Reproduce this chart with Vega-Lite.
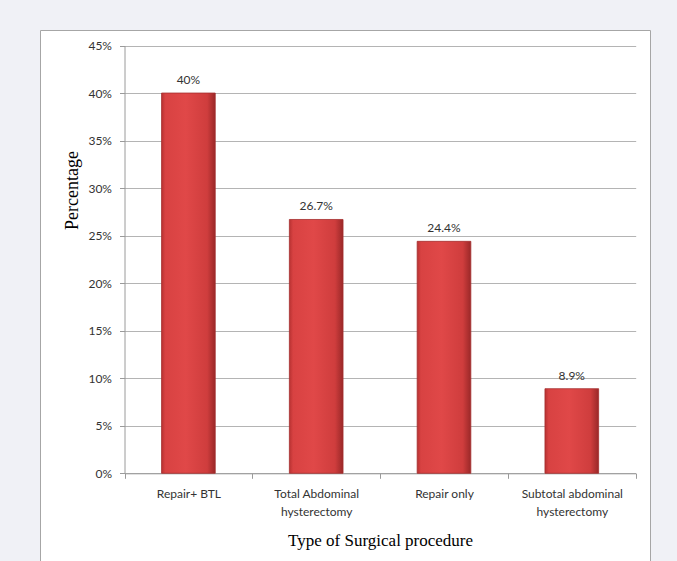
{
  "$schema": "https://vega.github.io/schema/vega-lite/v6.json",
  "width": 610,
  "height": 540,
  "autosize": {"type": "none"},
  "padding": {"left": 40, "top": 30, "right": 27, "bottom": 0},
  "background": "#f0f1f6",
  "config": {"view": {"fill": "#ffffff", "stroke": "#a6a6a6", "strokeWidth": 1}},
  "data": {
    "values": [
      {"procedure": "Repair+ BTL", "pct": 0.40, "label": "40%"},
      {"procedure": "Total Abdominal|hysterectomy", "pct": 0.267, "label": "26.7%"},
      {"procedure": "Repair only", "pct": 0.244, "label": "24.4%"},
      {"procedure": "Subtotal abdominal|hysterectomy", "pct": 0.089, "label": "8.9%"}
    ]
  },
  "encoding": {
    "x": {
      "field": "procedure",
      "type": "nominal",
      "sort": null,
      "scale": {"range": [84.5, 595.7], "paddingInner": 0, "paddingOuter": 0},
      "axis": {
        "title": "Type of Surgical procedure",
        "offset": -96.7,
        "tickBand": "extent",
        "labelExpr": "split(datum.label, '|')",
        "labelAngle": 0,
        "labelLineHeight": 18,
        "labelPadding": 10,
        "labelBaseline": "top",
        "grid": false,
        "domainColor": "#9a9a9a",
        "tickColor": "#9a9a9a",
        "tickSize": 5,
        "labelFont": "Lato",
        "labelFontSize": 12,
        "labelColor": "#333333",
        "titleFont": "Liberation Serif",
        "titleFontSize": 17,
        "titleFontWeight": "normal",
        "titleColor": "#000000",
        "titleY": 67,
        "titleBaseline": "middle"
      }
    },
    "y": {
      "field": "pct",
      "type": "quantitative",
      "scale": {"domain": [0, 0.45], "range": [443.3, 15.5], "nice": false, "zero": true},
      "axis": {
        "title": "Percentage",
        "values": [0, 0.05, 0.1, 0.15, 0.2, 0.25, 0.3, 0.35, 0.4, 0.45],
        "format": ".0%",
        "offset": -84.5,
        "grid": true,
        "gridColor": "#b4b4b4",
        "domainColor": "#9a9a9a",
        "tickColor": "#9a9a9a",
        "tickSize": 5,
        "labelPadding": 8,
        "labelFont": "Lato",
        "labelFontSize": 12,
        "labelColor": "#333333",
        "titleFont": "Liberation Serif",
        "titleFontSize": 18,
        "titleFontWeight": "normal",
        "titleColor": "#000000",
        "titleAngle": 270,
        "titleAlign": "center",
        "titleBaseline": "middle",
        "titleX": -52.5,
        "titleY": 160
      }
    }
  },
  "layer": [
    {
      "mark": {
        "type": "bar",
        "width": {"band": 0.42},
        "color": {
          "gradient": "linear",
          "x1": 0, "y1": 0, "x2": 1, "y2": 0,
          "stops": [
            {"offset": 0, "color": "#b83232"},
            {"offset": 0.07, "color": "#d84242"},
            {"offset": 0.45, "color": "#e04848"},
            {"offset": 0.85, "color": "#cf3d3d"},
            {"offset": 1, "color": "#9a2828"}
          ]
        },
        "stroke": "#a52e2e",
        "strokeWidth": 0.8
      }
    },
    {
      "mark": {
        "type": "text",
        "dy": -9,
        "baseline": "alphabetic",
        "font": "Lato",
        "fontSize": 12,
        "color": "#333333"
      },
      "encoding": {"text": {"field": "label"}}
    }
  ]
}
